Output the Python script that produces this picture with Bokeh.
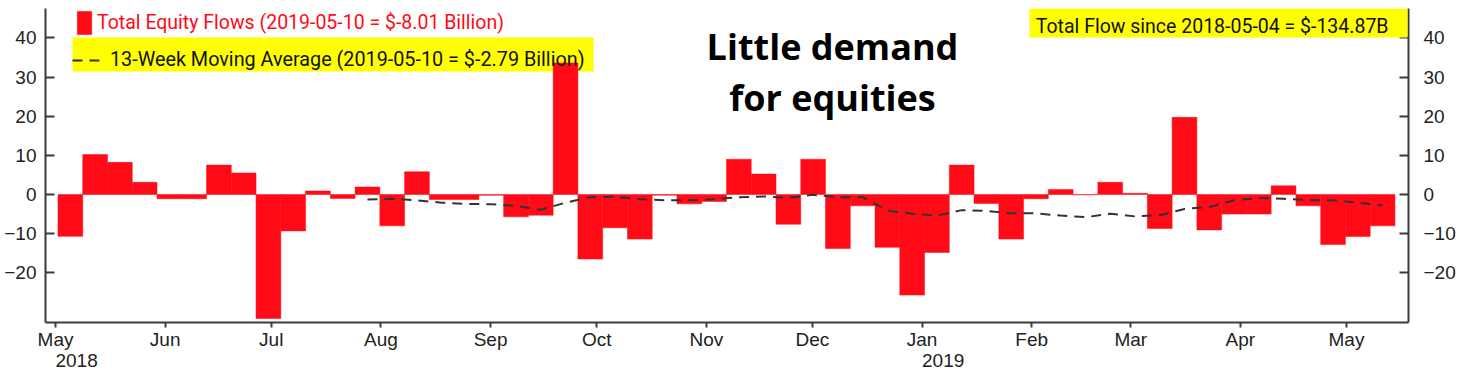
import pandas as pd
from bokeh.plotting import figure
from bokeh.models import (LinearAxis, FixedTicker, Range1d, Legend, LegendItem,
                          Label, BoxAnnotation, ColumnDataSource)
from bokeh.embed import file_html
from bokeh.resources import INLINE

# ---------------- data ----------------
week_dates = [
    "2018-05-04", "2018-05-11", "2018-05-18", "2018-05-25", "2018-06-01", "2018-06-08",
    "2018-06-15", "2018-06-22", "2018-06-29", "2018-07-06", "2018-07-13", "2018-07-20",
    "2018-07-27", "2018-08-03", "2018-08-10", "2018-08-17", "2018-08-24", "2018-08-31",
    "2018-09-07", "2018-09-14", "2018-09-21", "2018-09-28", "2018-10-05", "2018-10-12",
    "2018-10-19", "2018-10-26", "2018-11-02", "2018-11-09", "2018-11-16", "2018-11-23",
    "2018-11-30", "2018-12-07", "2018-12-14", "2018-12-21", "2018-12-28", "2019-01-04",
    "2019-01-11", "2019-01-18", "2019-01-25", "2019-02-01", "2019-02-08", "2019-02-15",
    "2019-02-22", "2019-03-01", "2019-03-08", "2019-03-15", "2019-03-22", "2019-03-29",
    "2019-04-05", "2019-04-12", "2019-04-19", "2019-04-26", "2019-05-03", "2019-05-10",
]
equity_flows = [
    -10.7, 10.2, 8.2, 3.1, -1.1, -1.1,
    7.5, 5.5, -31.7, -9.3, 0.9, -1.0,
    1.9, -8.0, 5.8, -1.3, -1.3, -0.2,
    -5.7, -5.3, 33.6, -16.5, -8.5, -11.4,
    -0.2, -2.4, -1.8, 9.0, 5.2, -7.6,
    9.0, -13.8, -2.9, -13.5, -25.7, -14.8,
    7.5, -2.3, -11.4, -1.1, 1.3, -0.1,
    3.1, 0.3, -8.7, 19.7, -9.05, -5.0,
    -5.0, 2.2, -2.9, -12.8, -10.75, -8.01,
]
# 13-week moving average, first value at 2018-07-27 (13th week)
ma_first_index = 12
moving_average = [
    -1.3, -1.1, -1.5, -2.1, -2.4, -2.5,
    -2.9, -3.9, -2.1, -0.7, -0.6, -1.2,
    -1.5, -1.5, -1.2, -0.7, -0.5, -0.85,
    -0.1, -0.7, -0.7, -4.1, -4.9, -5.4,
    -4.0, -4.2, -4.8, -4.8, -5.4, -5.8,
    -4.9, -5.6, -5.3, -3.7, -3.2, -1.5,
    -0.9, -1.1, -1.4, -1.5, -2.1, -2.79,
]
month_ticks = ["2018-05-01", "2018-06-01", "2018-07-01", "2018-08-01", "2018-09-01",
               "2018-10-01", "2018-11-01", "2018-12-01", "2019-01-01", "2019-02-01",
               "2019-03-01", "2019-04-01", "2019-05-01"]
month_labels = ["May", "Jun", "Jul", "Aug", "Sep", "Oct", "Nov", "Dec",
                "Jan", "Feb", "Mar", "Apr", "May"]
year_labels = {"2018-05-01": "2018", "2019-01-01": "2019"}
y_ticks = [-20, -10, 0, 10, 20, 30, 40]

legend_flow = "Total Equity Flows (2019-05-10 = $-8.01 Billion)"
legend_ma = "13-Week Moving Average (2019-05-10 = $-2.79 Billion)"
total_text = "Total Flow since 2018-05-04 = $-134.87B"
title_text = "Little demand\nfor equities"

# ---------------- helpers ----------------
DAY = 86400000


def ms(s):
    return pd.Timestamp(s).value // 10**6


RED = "#ff0a16"
YELLOW = "#ffff00"
AX = "#3a3a3a"
LEG_FONT = "Roboto"
TICK_FONT = "Liberation Sans"
TITLE_FONT = "Open Sans"
NBSP = "\u00a0"

bar_x = [ms(d) + 1.2 * DAY for d in week_dates]
src = ColumnDataSource(dict(x=bar_x, flow=equity_flows))
ma_x = bar_x[ma_first_index:]

FW, FH = 1363, 314  # intended frame size in px

p = figure(width=1459, height=378,
           x_range=Range1d(ms("2018-04-28") + 0.17 * DAY, ms("2019-05-18") + 0.53 * DAY),
           y_range=Range1d(-32.7, 47.5),
           output_backend="svg", toolbar_location=None,
           min_border_left=45, min_border_right=51, min_border_top=8, min_border_bottom=56,
           outline_line_color=None, background_fill_color="white")
p.xgrid.visible = False
p.ygrid.visible = False

# yellow background of the moving-average legend, drawn beneath the bars
p.add_layout(BoxAnnotation(left=27, right=548, bottom=FH - 63, top=FH - 29,
                           left_units="screen", right_units="screen",
                           bottom_units="screen", top_units="screen",
                           fill_color=YELLOW, fill_alpha=1, line_color=None,
                           level="underlay"))

bars = p.vbar(x="x", top="flow", bottom=0, width=7 * DAY, source=src,
              fill_color=RED, line_color=RED, line_width=0.5)
ma_line = p.line(x=ma_x, y=moving_average, line_color="#333333", line_width=2,
                 line_dash="10 7")

# x axis
overrides = {}
for t, lab in zip(month_ticks, month_labels):
    if t in year_labels:
        lab = lab + "\n" + NBSP * 8 + year_labels[t]
    overrides[ms(t)] = lab
xa = p.xaxis[0]
xa.ticker = FixedTicker(ticks=[ms(t) for t in month_ticks])
xa.major_label_overrides = overrides
xa.axis_line_color = AX
xa.axis_line_width = 2
xa.major_tick_line_color = AX
xa.major_tick_line_width = 2
xa.major_tick_in = 0
xa.major_tick_out = 5
xa.minor_tick_line_color = None
xa.major_label_standoff = 1
xa.major_label_text_font = TICK_FONT
xa.major_label_text_font_size = "19px"
xa.major_label_text_line_height = 1.0
xa.major_label_text_color = "#222222"

# y axes
ya = p.yaxis[0]
yr = LinearAxis()
p.add_layout(yr, "right")
for ax, stand in ((ya, 9), (yr, 15)):
    ax.ticker = FixedTicker(ticks=y_ticks)
    ax.axis_line_color = AX
    ax.axis_line_width = 2
    ax.major_tick_line_color = AX
    ax.major_tick_line_width = 2
    ax.major_tick_in = 9
    ax.major_tick_out = 0
    ax.minor_tick_line_color = None
    ax.major_label_standoff = stand
    ax.major_label_text_font = TICK_FONT
    ax.major_label_text_font_size = "19px"
    ax.major_label_text_color = "#222222"

# legends (location = bottom-left corner, px from frame bottom-left)
leg1 = Legend(items=[LegendItem(label=legend_flow, renderers=[bars])],
              location=(30, FH - 29), padding=0, margin=0, spacing=0,
              glyph_width=18, glyph_height=29, label_height=29, label_standoff=4,
              label_text_font=LEG_FONT, label_text_font_size="19.5px",
              label_text_color=RED, background_fill_alpha=0, border_line_color=None)
leg2 = Legend(items=[LegendItem(label=legend_ma, renderers=[ma_line])],
              location=(27, FH - 63), padding=6, margin=0, spacing=0,
              glyph_width=31, glyph_height=22, label_height=22, label_standoff=7,
              label_text_font=LEG_FONT, label_text_font_size="19.8px",
              label_text_color="#111111", background_fill_alpha=0,
              border_line_color=None)
p.add_layout(leg1, "center")
p.add_layout(leg2, "center")

# total flow box (screen px relative to the frame)
p.add_layout(BoxAnnotation(left=984, right=FW - 1, bottom=FH - 29, top=FH,
                           left_units="screen", right_units="screen",
                           bottom_units="screen", top_units="screen",
                           fill_color=YELLOW, fill_alpha=1, line_color=None))
p.add_layout(Label(x=1343, y=FH - 18, x_units="screen", y_units="screen",
                   text=total_text, text_align="right", text_baseline="alphabetic",
                   text_font=LEG_FONT, text_font_size="19.5px", text_color="#111111"))

# title
p.add_layout(Label(x=787, y=FH - 13, x_units="screen", y_units="screen",
                   text=title_text, text_align="center", text_baseline="top",
                   text_font=TITLE_FONT, text_font_style="bold", text_font_size="36px",
                   text_line_height=1.05, text_color="#000000"))

open("out.html", "w").write(file_html(p, INLINE))
